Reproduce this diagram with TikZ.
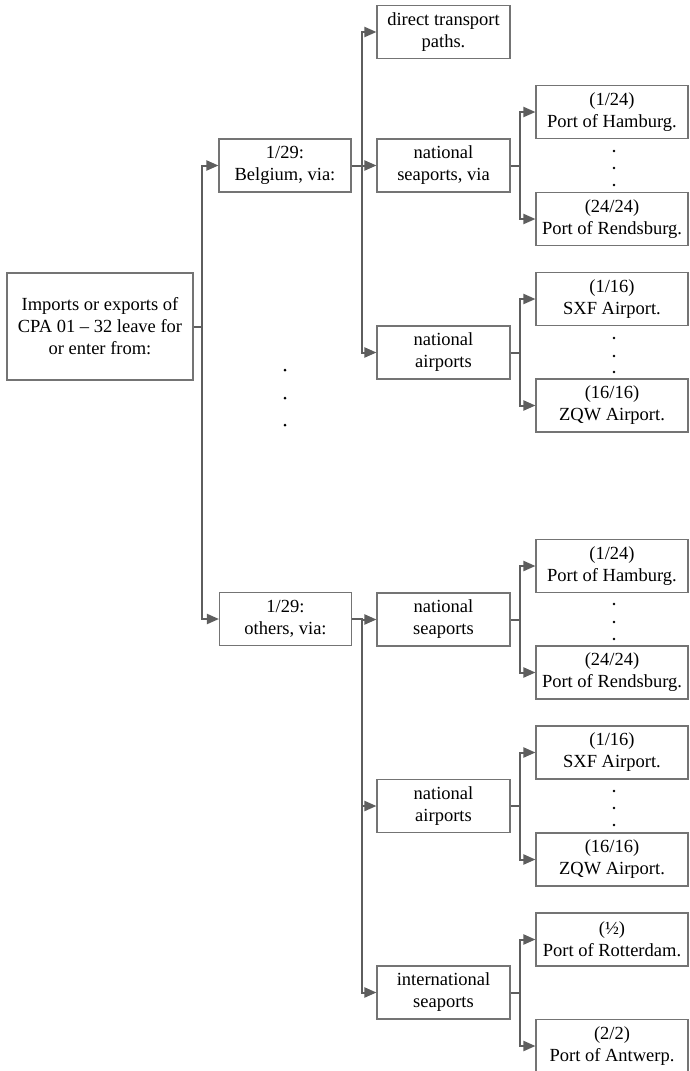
\documentclass[tikz,border=0pt]{standalone}
\usepackage{fontspec}
\setmainfont{Liberation Serif}
\usetikzlibrary{arrows.meta}
\definecolor{boxgray}{HTML}{747474}
\definecolor{linegray}{HTML}{5E5E5E}
\begin{document}
\begin{tikzpicture}[x=1pt,y=-1pt,
  box/.style={draw=boxgray,line width=1.1pt,inner sep=0pt,align=center,
    font=\rmfamily\fontsize{18.5}{22}\selectfont,minimum height=53pt},
  midbox/.style={box,minimum width=133pt},
  leafbox/.style={box,minimum width=152pt},
  conn/.style={draw=linegray,line width=2pt,-{Triangle[length=12pt,width=10pt]}}
]
\useasboundingbox (0,0) rectangle (689,1071);
% coordinates of trunks
\coordinate (t0) at (202,0);
\coordinate (t1) at (362,0);
\coordinate (t2) at (520,0);
% nodes
\node[box,minimum width=186pt,minimum height=107pt] (root) at (100,326.5) {Imports or exports of\\CPA 01 – 32 leave for\\or enter from:};
\node[box,minimum width=132pt] (bel) at (285,165.5) {1/29:\\Belgium, via:};
\node[box,minimum width=132pt] (oth) at (285.5,619) {1/29:\\others, via:};
\node[midbox] (direct) at (443.5,32) {direct transport\\paths.};
\node[midbox] (nsv) at (443.5,165.5) {national\\seaports, via};
\node[midbox] (nap1) at (443.5,352.5) {national\\airports};
\node[midbox] (ns2) at (443.5,619.5) {national\\seaports};
\node[midbox] (nap2) at (443.5,806) {national\\airports};
\node[midbox] (ints) at (443.5,992.5) {international\\seaports};
\node[leafbox] (ham1) at (612,112) {(1/24)\\Port of Hamburg.};
\node[leafbox] (ren1) at (612,219) {(24/24)\\Port of Rendsburg.};
\node[leafbox] (sxf1) at (612,299) {(1/16)\\SXF Airport.};
\node[leafbox] (zqw1) at (612,405.5) {(16/16)\\ZQW Airport.};
\node[leafbox] (ham2) at (612,566) {(1/24)\\Port of Hamburg.};
\node[leafbox] (ren2) at (612,672.5) {(24/24)\\Port of Rendsburg.};
\node[leafbox] (sxf2) at (612,752.5) {(1/16)\\SXF Airport.};
\node[leafbox] (zqw2) at (612,859.5) {(16/16)\\ZQW Airport.};
\node[leafbox] (rot) at (612,939.5) {(½)\\Port of Rotterdam.};
\node[leafbox] (ant) at (612,1046) {(2/2)\\Port of Antwerp.};
% connectors
\foreach \a/\b in {root/bel,root/oth}
  \draw[conn] (\a.east) -- (\a.east -| t0) |- (\b.west);
\foreach \a/\b in {bel/direct,bel/nsv,bel/nap1,oth/ns2,oth/nap2,oth/ints}
  \draw[conn] (\a.east) -- (\a.east -| t1) |- (\b.west);
\foreach \a/\b in {nsv/ham1,nsv/ren1,nap1/sxf1,nap1/zqw1,ns2/ham2,ns2/ren2,nap2/sxf2,nap2/zqw2,ints/rot,ints/ant}
  \draw[conn] (\a.east) -- (\a.east -| t2) |- (\b.west);
% ellipsis dots
\foreach \y in {370,398,425} \fill (285,\y) circle (1.5pt);
\foreach \y in {151,168,185,338,356,372,604,622,639,791,808,825} \fill (614,\y) circle (1.3pt);
\end{tikzpicture}
\end{document}
